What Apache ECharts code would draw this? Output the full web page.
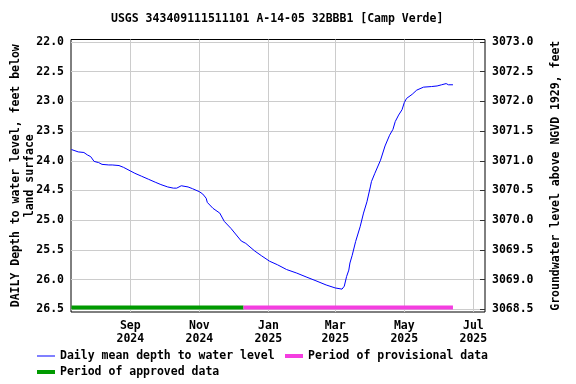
<!DOCTYPE html>
<html>
<head>
<meta charset="utf-8">
<script src="https://cdn.jsdelivr.net/npm/echarts@6/dist/echarts.min.js"></script>
<style>html,body{margin:0;padding:0;background:#fff}#c{width:576px;height:384px}</style>
</head>
<body>
<div id="c"></div>
<script>
// ---- data ----
const dates = ['2024-07-11','2024-07-17','2024-07-22','2024-07-25','2024-07-28','2024-07-31','2024-08-04','2024-08-07','2024-08-13','2024-08-16','2024-08-22','2024-08-26','2024-09-01','2024-09-05','2024-09-11','2024-09-17','2024-09-23','2024-09-28','2024-10-04','2024-10-09','2024-10-12','2024-10-16','2024-10-22','2024-10-26','2024-11-01','2024-11-04','2024-11-07','2024-11-08','2024-11-13','2024-11-19','2024-11-23','2024-11-29','2024-12-08','2024-12-12','2024-12-20','2024-12-26','2025-01-02','2025-01-09','2025-01-17','2025-01-26','2025-02-04','2025-02-12','2025-02-21','2025-03-01','2025-03-07','2025-03-09','2025-03-11','2025-03-13','2025-03-14','2025-03-16','2025-03-19','2025-03-23','2025-03-26','2025-03-29','2025-04-01','2025-04-02','2025-04-05','2025-04-10','2025-04-14','2025-04-18','2025-04-21','2025-04-23','2025-04-26','2025-04-29','2025-05-01','2025-05-03','2025-05-08','2025-05-12','2025-05-18','2025-05-25','2025-05-30','2025-06-03','2025-06-07','2025-06-09','2025-06-13'];
const depths = [23.81,23.85,23.86,23.90,23.93,24.01,24.03,24.06,24.07,24.07,24.08,24.11,24.17,24.21,24.26,24.31,24.36,24.40,24.44,24.46,24.46,24.42,24.44,24.47,24.52,24.56,24.63,24.70,24.80,24.88,25.02,25.14,25.35,25.39,25.52,25.60,25.69,25.75,25.83,25.89,25.96,26.02,26.09,26.14,26.16,26.11,25.95,25.84,25.72,25.59,25.36,25.11,24.88,24.69,24.44,24.35,24.21,23.99,23.75,23.57,23.47,23.34,23.23,23.14,23.02,22.95,22.88,22.81,22.76,22.75,22.74,22.72,22.70,22.72,22.72];
const approvedPeriod = ['2024-07-11','2024-12-10'];
const provisionalPeriod = ['2024-12-10','2025-06-13'];
const periodLevel = 26.47;
const landSurface = 3095.0;
const depthTicks = [22.0,22.5,23.0,23.5,24.0,24.5,25.0,25.5,26.0,26.5];
const elevTicks = [3068.5,3069.0,3069.5,3070.0,3070.5,3071.0,3071.5,3072.0,3072.5,3073.0];
const monthTicks = ['2024-09-01','2024-11-01','2025-01-01','2025-03-01','2025-05-01','2025-07-01'];
const monthNames = ['Jan','Feb','Mar','Apr','May','Jun','Jul','Aug','Sep','Oct','Nov','Dec'];
const titleText = 'USGS 343409111511101 A-14-05 32BBB1 [Camp Verde]';

// ---- chart ----
const depthMin = 21.958, depthMax = 26.545;
const FONT = 'DejaVu Sans Mono';
const ts = s => new Date(s + 'T00:00:00Z').getTime();
const txt = {fontFamily: FONT, fontWeight: 'bold', fontSize: 11.5, color: '#000'};
const lg = (left, top, h, data) => ({left, top, padding: 0, itemWidth: 18, itemHeight: h, itemGap: 8,
  textStyle: Object.assign({}, txt), data});

const chart = echarts.init(document.getElementById('c'), null, {renderer: 'canvas'});
chart.setOption({
  animation: false,
  backgroundColor: '#fff',
  title: {text: titleText, left: 111, top: 13, textStyle: Object.assign({}, txt), padding: 0},
  grid: {left: 71, right: 91, top: 39.5, bottom: 72, show: true, borderColor: '#000', borderWidth: 1,
         backgroundColor: 'transparent', outerBoundsMode: 'none', containLabel: false},
  legend: [
    lg(37, 350, 1, [{name: 'Daily mean depth to water level', icon: 'rect'}]),
    lg(285, 350, 4, [{name: 'Period of provisional data', icon: 'rect'}]),
    lg(37, 366, 4, [{name: 'Period of approved data', icon: 'rect'}])
  ],
  xAxis: {
    type: 'value', min: ts('2024-07-10') + 0.6 * 864e5, max: ts('2025-07-11') + 0.3 * 864e5,
    axisLine: {show: false},
    axisTick: {show: false, customValues: monthTicks.map(ts)},
    axisLabel: {customValues: monthTicks.map(ts), margin: 8, lineHeight: 13, fontFamily: FONT, fontWeight: 'bold', fontSize: 11.5, color: '#000',
      formatter: v => { const d = new Date(v); return monthNames[d.getUTCMonth()] + '\n' + d.getUTCFullYear(); }},
    splitLine: {show: true, lineStyle: {color: '#cccccc', width: 1}}
  },
  yAxis: [
    {
      type: 'value', inverse: true, min: depthMin, max: depthMax, position: 'left',
      name: 'DAILY Depth to water level, feet below\nland surface', nameLocation: 'middle', nameGap: 34, nameRotate: 90,
      nameMoveOverlap: false,
      nameTextStyle: Object.assign({lineHeight: 14, align: 'center'}, txt),
      axisLine: {show: false},
      axisTick: {show: false, customValues: depthTicks},
      axisLabel: {customValues: depthTicks, margin: 7, fontFamily: FONT, fontWeight: 'bold', fontSize: 11.5, color: '#000', formatter: v => v.toFixed(1)},
      splitLine: {show: true, lineStyle: {color: '#cccccc', width: 1}}
    },
    {
      type: 'value', min: landSurface - depthMax, max: landSurface - depthMin, position: 'right',
      name: 'Groundwater level above NGVD 1929, feet', nameLocation: 'middle', nameGap: 65, nameRotate: 90,
      nameMoveOverlap: false,
      nameTextStyle: Object.assign({}, txt),
      axisLine: {show: false},
      axisTick: {show: true, inside: true, length: 5, customValues: elevTicks, lineStyle: {color: '#333'}},
      axisLabel: {customValues: elevTicks, margin: 7, fontFamily: FONT, fontWeight: 'bold', fontSize: 11.5, color: '#000', formatter: v => v.toFixed(1)},
      splitLine: {show: false}
    }
  ],
  series: [
    {name: 'Period of approved data', type: 'line', color: '#009a00', symbol: 'none', silent: true,
     lineStyle: {width: 4, color: '#009a00'}, data: approvedPeriod.map(d => [ts(d), periodLevel])},
    {name: 'Period of provisional data', type: 'line', color: '#f43ee0', symbol: 'none', silent: true,
     lineStyle: {width: 4, color: '#f43ee0'}, data: provisionalPeriod.map(d => [ts(d), periodLevel])},
    {name: 'Daily mean depth to water level', type: 'line', color: '#0000ff', symbol: 'none', silent: true,
     lineStyle: {width: 1, color: '#0000ff'}, data: dates.map((d, i) => [ts(d), depths[i]]), z: 5}
  ]
});
</script>
</body>
</html>
